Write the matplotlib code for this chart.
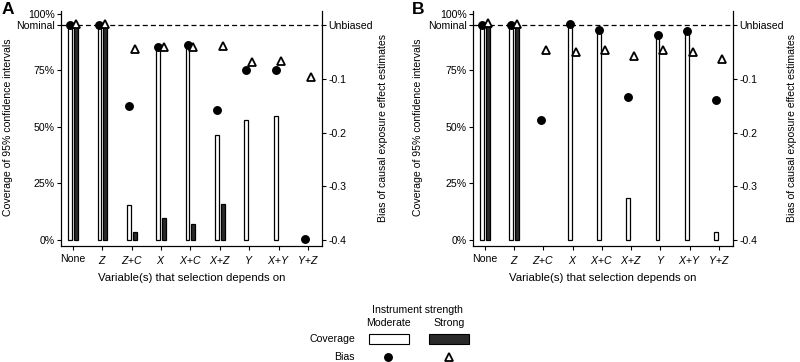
import matplotlib
matplotlib.use("Agg")
import matplotlib.pyplot as plt
import numpy as np
from matplotlib.patches import Rectangle
from matplotlib.lines import Line2D

plt.rcParams['font.family'] = ['Liberation Sans', 'DejaVu Sans']
plt.rcParams['mathtext.fontset'] = 'custom'
plt.rcParams['mathtext.it'] = 'Liberation Sans:italic'
plt.rcParams['mathtext.rm'] = 'Liberation Sans'
plt.rcParams['axes.unicode_minus'] = False

categories = ['None', '$Z$', '$Z$+$C$', '$X$', '$X$+$C$', '$X$+$Z$', '$Y$', '$X$+$Y$', '$Y$+$Z$']

# Panel A
cov_mod_A = [95, 95, 15.5, 86, 86.5, 46.5, 53, 55, 0]
cov_str_A = [95, 95, 3.5, 9.5, 7, 16, 0, 0, 0]
bias_mod_A = [0.0, 0.0, -0.151, -0.040, -0.037, -0.158, -0.083, -0.084, -0.398]
bias_str_A = [0.002, 0.002, -0.045, -0.040, -0.040, -0.038, -0.068, -0.066, -0.096]

# Panel B
cov_mod_B = [95, 95, 0, 95.6, 93, 18.5, 91, 93, 3.7]
cov_str_B = [95, 95, 0, 0, 0, 0, 0, 0, 0]
bias_mod_B = [0.0, 0.0, -0.176, 0.002, -0.008, -0.133, -0.018, -0.010, -0.140]
bias_str_B = [0.004, 0.002, -0.046, -0.050, -0.047, -0.057, -0.047, -0.050, -0.063]

cov_ticks = [0, 25, 50, 75, 95, 100]
cov_ticklabels = ['0%', '25%', '50%', '75%', 'Nominal', '100%']
bias_ticks = [-0.4, -0.3, -0.2, -0.1, 0.0]
bias_ticklabels = ['-0.4', '-0.3', '-0.2', '-0.1', 'Unbiased']

NOMINAL = 95.0
BIAS_BOTTOM = -0.4

W, H = 800, 362
fig = plt.figure(figsize=(8.0, 3.62), dpi=100)

FS = 7.6
DARK = '#2a2a2a'


def cov_to_bias(c):
    return (c - NOMINAL) / NOMINAL * (-BIAS_BOTTOM)


def panel(left_px, right_px, cov_mod, cov_str, bias_mod, bias_str):
    top_px, bottom_px = 11, 246
    ax = fig.add_axes([left_px / W, 1 - bottom_px / H, (right_px - left_px) / W, (bottom_px - top_px) / H])
    x = np.arange(len(categories))
    off, bw = 0.1, 0.13
    cm = np.array(cov_mod, dtype=float)
    cs = np.array(cov_str, dtype=float)
    km = cm > 0
    ks = cs > 0
    ax.bar(x[km] - off, cm[km], width=bw, color='white', edgecolor='black', linewidth=0.9, zorder=2)
    ax.bar(x[ks] + off, cs[ks], width=bw, color=DARK, edgecolor='black', linewidth=0.9, zorder=2)
    ylo, yhi = -2.7, 101.3
    ax.set_ylim(ylo, yhi)
    ax.set_xlim(-0.41, 8.48)
    ax.set_xticks(x)
    ax.set_xticklabels(categories, fontsize=FS)
    ax.set_yticks(cov_ticks)
    ax.set_yticklabels(cov_ticklabels, fontsize=FS)
    ax.spines['top'].set_visible(False)
    ax.tick_params(axis='y', length=3, width=0.8, pad=1.5)
    ax.tick_params(axis='x', length=3, width=0.8, pad=3)
    for s in ax.spines.values():
        s.set_linewidth(0.8)
    ax.set_xlabel('Variable(s) that selection depends on', fontsize=8.2, labelpad=5)

    ax2 = ax.twinx()
    ax2.set_ylim(cov_to_bias(ylo), cov_to_bias(yhi))
    ax2.set_yticks(bias_ticks)
    ax2.set_yticklabels(bias_ticklabels, fontsize=FS)
    ax2.tick_params(axis='y', length=3, width=0.8, pad=1.5)
    ax2.spines['top'].set_visible(False)
    ax2.spines['right'].set_linewidth(0.8)
    ax2.axhline(0.0, color='black', linestyle=(0, (4, 2.5)), linewidth=0.9, zorder=1)
    ax2.plot(x - off, bias_mod, linestyle='none', marker='o', markersize=5.4,
             color='black', zorder=3, clip_on=False)
    ax2.plot(x + off, bias_str, linestyle='none', marker='^', markersize=6.2,
             markerfacecolor='white', markeredgecolor='black', markeredgewidth=1.3,
             zorder=3, clip_on=False)
    return ax, ax2


panel(61, 322, cov_mod_A, cov_str_A, bias_mod_A, bias_str_A)
panel(473, 733, cov_mod_B, cov_str_B, bias_mod_B, bias_str_B)


def fx(px):
    return px / W


def fy(py):
    return 1 - py / H


# Panel letters
fig.text(fx(2), fy(9), 'A', fontsize=12.5, fontweight='bold', va='center', ha='left')
fig.text(fx(412), fy(9), 'B', fontsize=12.5, fontweight='bold', va='center', ha='left')

# Axis titles (rotated)
for xc in (8, 418):
    fig.text(fx(xc), fy(127), 'Coverage of 95% confidence intervals', rotation=90,
             fontsize=7.6, ha='center', va='center')
for xc in (383, 792):
    fig.text(fx(xc), fy(128), 'Bias of causal exposure effect estimates', rotation=90,
             fontsize=7.6, ha='center', va='center')

# Legend
fig.text(fx(417), fy(310), 'Instrument strength', fontsize=FS, ha='center', va='center')
fig.text(fx(388), fy(323), 'Moderate', fontsize=FS, ha='center', va='center')
fig.text(fx(449), fy(323), 'Strong', fontsize=FS, ha='center', va='center')
fig.text(fx(355), fy(339), 'Coverage', fontsize=FS, ha='right', va='center')
fig.text(fx(355), fy(357), 'Bias', fontsize=FS, ha='right', va='center')
fig.add_artist(Rectangle((fx(369), fy(344)), fx(40), 10 / H, transform=fig.transFigure,
                         facecolor='white', edgecolor='black', linewidth=0.8))
fig.add_artist(Rectangle((fx(429), fy(344)), fx(40), 10 / H, transform=fig.transFigure,
                         facecolor=DARK, edgecolor='black', linewidth=0.8))
fig.add_artist(Line2D([fx(388)], [fy(357)], marker='o', markersize=5.4, color='black',
                      transform=fig.transFigure))
fig.add_artist(Line2D([fx(449)], [fy(357)], marker='^', markersize=6.2, markerfacecolor='white',
                      markeredgecolor='black', markeredgewidth=1.3, transform=fig.transFigure))

fig.savefig('out.png', dpi=100)
